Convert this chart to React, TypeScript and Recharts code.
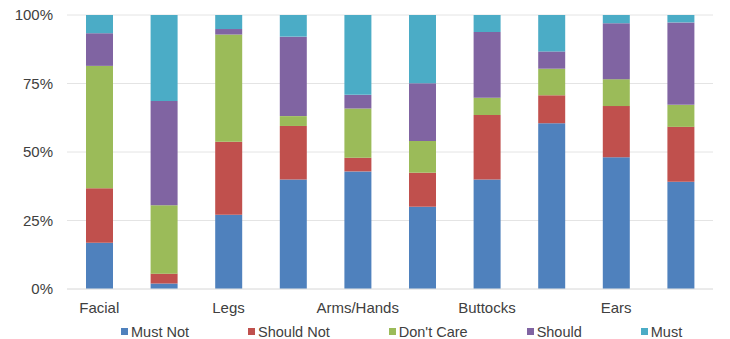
import { BarChart, Bar, XAxis, YAxis, CartesianGrid, Legend } from 'recharts';

// only every second label fits under the bars, the others are left blank
const categories = ['Facial', '', 'Legs', '', 'Arms/Hands', '', 'Buttocks', '', 'Ears', ''];

const mustNot = [17, 2, 27, 40, 43, 30, 40, 60.5, 48, 39];
const shouldNot = [20, 3.6, 26.5, 19.5, 5, 12.4, 23.5, 10.2, 18.7, 20];
const dontCare = [45, 25, 39, 3.6, 18, 11.6, 6.3, 9.7, 9.8, 8];
const should = [12, 38, 2, 29, 5, 21, 24, 6.3, 20.4, 30];
const must = [6.7, 31.4, 5.1, 7.9, 29.2, 24.9, 6.2, 13.3, 3, 2.7];

const yTicks = [0, 0.25, 0.5, 0.75, 1];

const series = [
  { key: 'mustNot', name: 'Must Not', color: '#4F81BD' },
  { key: 'shouldNot', name: 'Should Not', color: '#C0504D' },
  { key: 'dontCare', name: "Don't Care", color: '#9BBB59' },
  { key: 'should', name: 'Should', color: '#8064A2' },
  { key: 'must', name: 'Must', color: '#4BACC6' },
];

const data = categories.map((name, i) => ({
  name,
  mustNot: mustNot[i],
  shouldNot: shouldNot[i],
  dontCare: dontCare[i],
  should: should[i],
  must: must[i],
}));

const FONT = '"Liberation Sans", Arial, sans-serif';
const TEXT = '#404040';

const LegendContent = () => (
  <div
    style={{
      height: 26,
      boxSizing: 'border-box',
      paddingTop: 11,
      paddingLeft: 121,
      display: 'flex',
      gap: 59,
      fontFamily: FONT,
      fontSize: 14.5,
      lineHeight: '16px',
      color: TEXT,
    }}
  >
    {series.map((s) => (
      <div key={s.key} style={{ display: 'flex', alignItems: 'center', gap: 3 }}>
        <span style={{ width: 7, height: 7, backgroundColor: s.color, display: 'inline-block' }} />
        <span>{s.name}</span>
      </div>
    ))}
  </div>
);

export default function App() {
  return (
    <div style={{ position: 'absolute', left: 0, top: 0, background: '#fff' }}>
      <BarChart
        width={730}
        height={339}
        data={data}
        stackOffset="expand"
        barSize={27}
        margin={{ top: 15, right: 17, left: 0, bottom: 0 }}
      >
        <CartesianGrid vertical={false} stroke="#e4e4e4" />
        <XAxis
          dataKey="name"
          interval={0}
          height={24}
          axisLine={{ stroke: '#e4e4e4' }}
          tickLine={false}
          tickSize={0}
          tickMargin={13}
          tick={{ fontSize: 15, fill: TEXT, fontFamily: FONT }}
        />
        <YAxis
          width={67}
          domain={[0, 1]}
          ticks={yTicks}
          axisLine={false}
          tickLine={false}
          tickSize={0}
          tickMargin={14}
          tick={{ fontSize: 15, fill: TEXT, fontFamily: FONT }}
          tickFormatter={(v: number) => `${Math.round(v * 100)}%`}
        />
        <Legend verticalAlign="bottom" align="left" content={<LegendContent />} />
        {series.map((s) => (
          <Bar
            key={s.key}
            dataKey={s.key}
            name={s.name}
            stackId="a"
            fill={s.color}
            isAnimationActive={false}
          />
        ))}
      </BarChart>
    </div>
  );
}
